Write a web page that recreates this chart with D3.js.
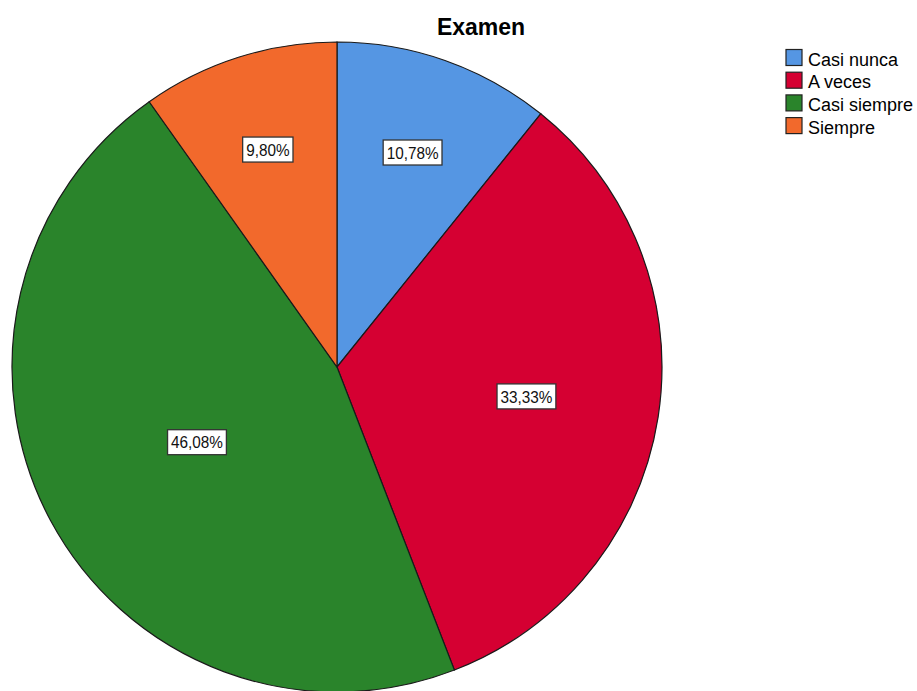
<!DOCTYPE html>
<html><head><meta charset="utf-8">
<script src="https://cdn.jsdelivr.net/npm/d3@7"></script>
<style>
html,body{margin:0;padding:0;background:#fff;overflow:hidden}
text{font-family:"Liberation Sans",Arial,sans-serif}
</style></head>
<body><svg id="c" width="917" height="691"></svg>
<script>
const title = "Examen";
const categories = ["Casi nunca", "A veces", "Casi siempre", "Siempre"];
const counts = [11, 34, 47, 10];
const percentLabels = ["10,78%", "33,33%", "46,08%", "9,80%"];
const colors = ["#5596e3", "#d50032", "#2a842b", "#f2692c"];

const svg = d3.select("#c");
const cx = 337, cy = 367, R = 325;

svg.append("text").attr("x", 481).attr("y", 35)
  .attr("text-anchor", "middle").attr("font-size", 23).attr("font-weight", "bold")
  .text(title);

const data = categories.map((c, i) => ({cat: c, v: counts[i], lab: percentLabels[i], col: colors[i]}));
const pie = d3.pie().value(d => d.v).sort(null);
const arcs = pie(data);
const arc = d3.arc().innerRadius(0).outerRadius(R);

const g = svg.append("g").attr("transform", `translate(${cx},${cy})`);
g.selectAll("path").data(arcs).join("path")
  .attr("d", arc).attr("fill", d => d.data.col)
  .attr("stroke", "#1a1a1a").attr("stroke-width", 1.2);

// labels near the area centroid of each sector
arcs.forEach(a => {
  const half = (a.endAngle - a.startAngle) / 2;
  const mid = (a.startAngle + a.endAngle) / 2;
  const r = 1.07 * 2 * R * Math.sin(half) / (3 * half);
  const x = r * Math.sin(mid), y = -r * Math.cos(mid);
  const lg = g.append("g").attr("transform", `translate(${x},${y})`);
  const tw = lg.append("g").attr("transform", "scale(0.9,1)");
  const t = tw.append("text").attr("text-anchor", "middle").attr("dy", "0.36em")
    .attr("font-size", 17).attr("fill", "#111").text(a.data.lab);
  const bb = t.node().getBBox();
  const w = bb.width * 0.9 + 7, h = 25;
  lg.insert("rect", "g").attr("x", -w / 2).attr("y", -h / 2)
    .attr("width", w).attr("height", h)
    .attr("fill", "#fff").attr("stroke", "#333").attr("stroke-width", 1.3);
});

const leg = svg.append("g").attr("transform", "translate(786,49.5)");
const rows = leg.selectAll("g").data(data).join("g")
  .attr("transform", (d, i) => `translate(0,${i * 22.7})`);
rows.append("rect").attr("width", 16).attr("height", 16)
  .attr("fill", d => d.col).attr("stroke", "#222").attr("stroke-width", 1.2);
rows.append("text").attr("x", 22).attr("y", 16)
  .attr("font-size", 18).text(d => d.cat);
</script></body></html>
